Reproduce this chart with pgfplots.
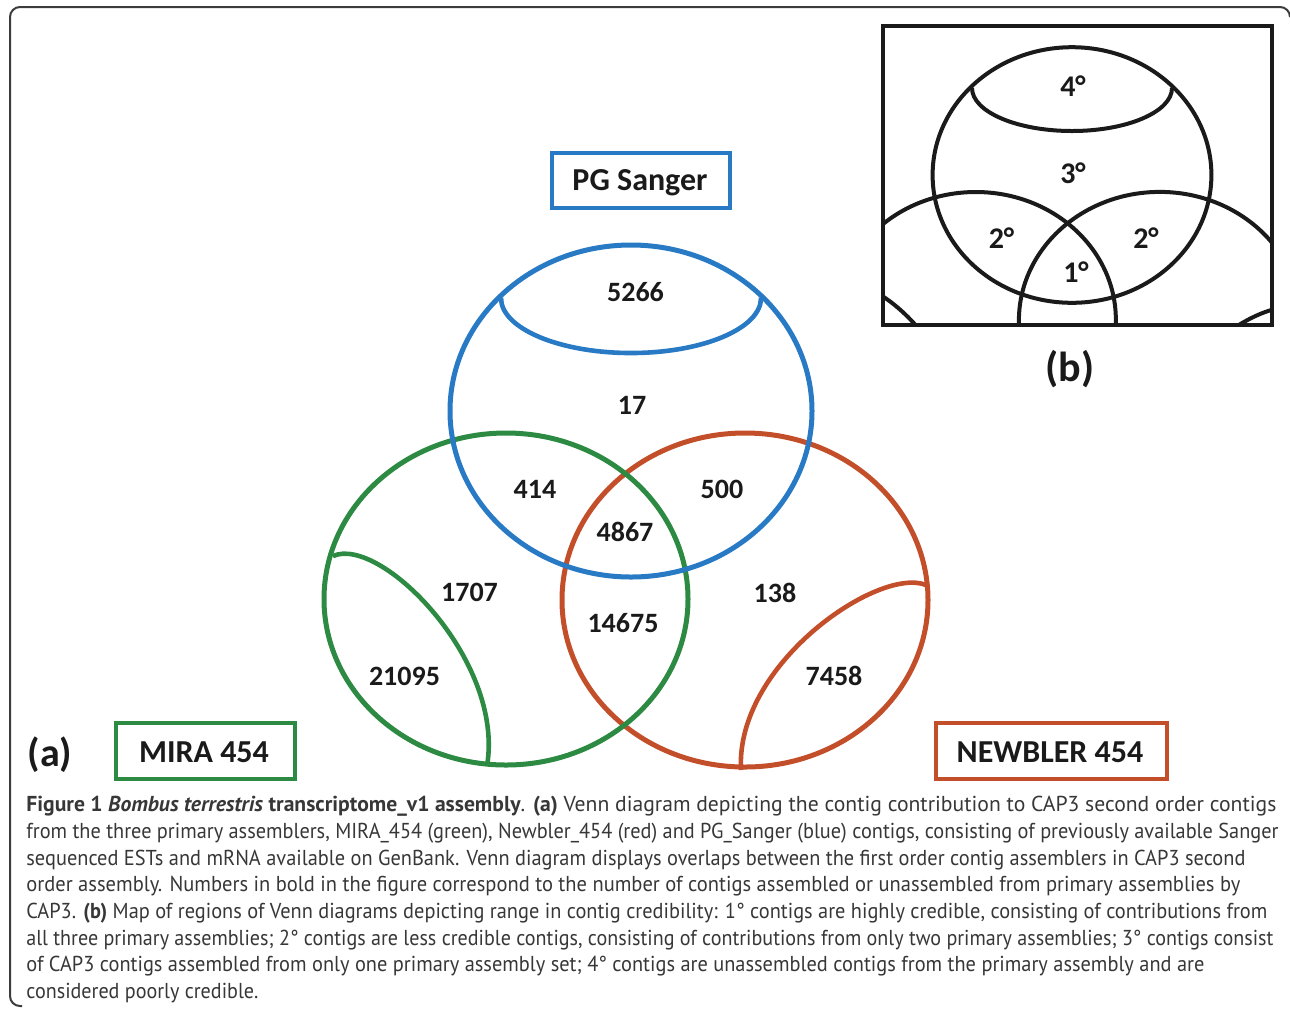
\documentclass[border=0pt]{standalone}
\usepackage{pgfplots}
\pgfplotsset{compat=1.18}
\usepackage{pgfplotstable}
\usepackage{graphicx}
\usepackage{fontspec}
\setmainfont{PT Sans}
\newfontfamily\calibri{Carlito}
\definecolor{vblue}{RGB}{40,122,196}
\definecolor{vgreen}{RGB}{44,138,66}
\definecolor{vred}{RGB}{195,78,42}
\definecolor{ink}{RGB}{26,26,26}
\definecolor{captext}{RGB}{55,55,55}
\definecolor{framec}{RGB}{60,60,60}

\pgfplotstableread{
x y label
635.5 292 5266
632 405 17
535 489 414
722 489 500
625 532 4867
469.5 592 1707
623 623 14675
775 593 138
404.5 676 21095
834 676 7458
}\regiona

\pgfplotstableread{
x y label
1073 86 4°
1073 173 3°
1001.5 238 2°
1146 238 2°
1076 272 1°
}\regionb

\newcommand\capline[3]{\node[anchor=base west, inner sep=0pt, text=captext, font=\fontsize{10.8pt}{12pt}\selectfont] at (axis cs:26,#1) {\resizebox{#2}{\height}{#3}};}

\begin{document}
\begin{tikzpicture}
\begin{axis}[width=645pt,height=504.5pt,scale only axis,
  xmin=0,xmax=1290,ymin=0,ymax=1009,y dir=reverse,
  hide axis,clip=false]
% outer frame
\draw[framec, line width=1pt, rounded corners=5pt] (axis cs:1290,16) -- (axis cs:1290,7) -- (axis cs:10,7) -- (axis cs:10,1006) -- (axis cs:22,1006);

% Venn (a)
\draw[vred, line width=2.5pt] (axis cs:745,600) ellipse [x radius=91.5pt, y radius=83.5pt];
\draw[vgreen, line width=2.5pt] (axis cs:506,599) ellipse [x radius=91pt, y radius=83pt];
\draw[vblue, line width=2.5pt] (axis cs:631,411) ellipse [x radius=90.5pt, y radius=83pt];
\draw[vblue, line width=2.3pt] (axis cs:501,298) arc[start angle=180, end angle=360, x radius=65pt, y radius=27.5pt];
\draw[vgreen, line width=2.3pt] (axis cs:333,556) .. controls (axis cs:380,535) and (axis cs:505,660) .. (axis cs:487,766);
\draw[vred, line width=2.3pt] (axis cs:926,585) .. controls (axis cs:879,566) and (axis cs:735,664) .. (axis cs:741,770);

% boxes
\draw[vblue, line width=1.6pt] (axis cs:552,153) rectangle (axis cs:730,208);
\node[anchor=base, inner sep=0pt, text=ink, font=\calibri\bfseries\fontsize{16pt}{18pt}\selectfont] at (axis cs:640,190) {PG Sanger};
\draw[vgreen, line width=1.8pt] (axis cs:116,723) rectangle (axis cs:295,779);
\node[anchor=base, inner sep=0pt, text=ink, font=\calibri\bfseries\fontsize{16pt}{18pt}\selectfont] at (axis cs:204,762.3) {MIRA 454};
\draw[vred, line width=2pt] (axis cs:936,723) rectangle (axis cs:1167,779);
\node[anchor=base, inner sep=0pt, text=ink, font=\calibri\bfseries\fontsize{16pt}{18pt}\selectfont] at (axis cs:1050,762.3) {NEWBLER 454};

\node[inner sep=0pt, text=ink, font=\calibri\bfseries\fontsize{20pt}{24pt}\selectfont] at (axis cs:50,755) {(a)};
\node[inner sep=0pt, text=ink, font=\calibri\bfseries\fontsize{21pt}{24pt}\selectfont] at (axis cs:1070,369) {(b)};

\addplot[only marks, mark=none, nodes near coords, point meta=explicit symbolic,
  every node near coord/.style={anchor=center, inner sep=0pt, text=ink, font=\calibri\bfseries\fontsize{14pt}{16pt}\selectfont}]
  table[x=x,y=y,meta=label] {\regiona};

% inset (b)
\begin{scope}
\clip (axis cs:883,26) rectangle (axis cs:1272,325);
\draw[ink, line width=2pt] (axis cs:975.75,319.8) ellipse [x radius=70.05pt, y radius=63.9pt];
\draw[ink, line width=2pt] (axis cs:1159.8,320.5) ellipse [x radius=70.45pt, y radius=64.3pt];
\draw[ink, line width=2pt] (axis cs:842.5,286.7) .. controls (axis cs:878.7,270.5) and (axis cs:975,366.7) .. (axis cs:961.1,448.4);
\draw[ink, line width=2pt] (axis cs:1299.2,309) .. controls (axis cs:1263,294.4) and (axis cs:1152.1,369.8) .. (axis cs:1156.7,451.4);
\end{scope}
\draw[ink, line width=2pt] (axis cs:1072,175) ellipse [x radius=69.7pt, y radius=63.9pt];
\draw[ink, line width=2pt] (axis cs:972,88) arc[start angle=180, end angle=360, x radius=50pt, y radius=21.5pt];
\draw[ink, line width=2.2pt] (axis cs:883,26) rectangle (axis cs:1272,325);

\addplot[only marks, mark=none, nodes near coords, point meta=explicit symbolic,
  every node near coord/.style={anchor=center, inner sep=0pt, text=ink, font=\calibri\bfseries\fontsize{15pt}{17pt}\selectfont}]
  table[x=x,y=y,meta=label] {\regionb};

% caption
\capline{811.7}{625pt}{\textbf{Figure 1 \textit{Bombus terrestris} transcriptome\_v1 assembly}. \textbf{(a)} Venn diagram depicting the contig contribution to CAP3 second order contigs}
\capline{838.4}{626pt}{from the three primary assemblers, MIRA\_454 (green), Newbler\_454 (red) and PG\_Sanger (blue) contigs, consisting of previously available Sanger}
\capline{865}{609.5pt}{sequenced ESTs and mRNA available on GenBank. Venn diagram displays overlaps between the first order contig assemblers in CAP3 second}
\capline{891.7}{607pt}{order assembly. Numbers in bold in the figure correspond to the number of contigs assembled or unassembled from primary assemblies by}
\capline{918.4}{620.5pt}{CAP3. \textbf{(b)} Map of regions of Venn diagrams depicting range in contig credibility: 1° contigs are highly credible, consisting of contributions from}
\capline{945}{623.5pt}{all three primary assemblies; 2° contigs are less credible contigs, consisting of contributions from only two primary assemblies; 3° contigs consist}
\capline{971.7}{589pt}{of CAP3 contigs assembled from only one primary assembly set; 4° contigs are unassembled contigs from the primary assembly and are}
\capline{998.4}{116pt}{considered poorly credible.}
\end{axis}
\pgfresetboundingbox
\path (0,0) rectangle (645pt,504.5pt);
\end{tikzpicture}
\end{document}
